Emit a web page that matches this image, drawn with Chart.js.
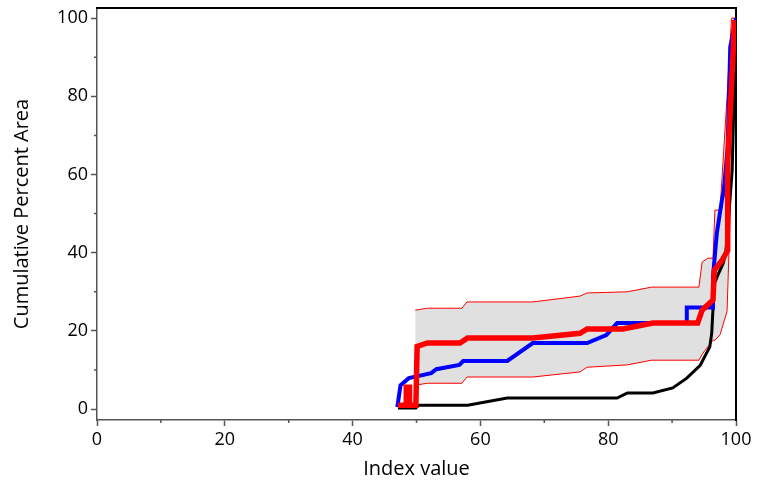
<!DOCTYPE html>
<html>
<head>
<meta charset="utf-8">
<script src="https://cdn.jsdelivr.net/npm/chart.js@4"></script>
<style>
html, body { margin: 0; padding: 0; background: #fff; }
</style>
</head>
<body>
<canvas id="chart1" width="767" height="485"></canvas>
<script>
const ctx = document.getElementById('chart1').getContext('2d');

// black line
const xPreto = [47.1, 49.9, 50.3, 58.0, 64.2, 81.4, 83.0, 87.0, 90.1, 92.3, 94.4, 95.9, 96.2, 96.6, 97.3, 98.0, 98.4, 99.4, 100];
const yPreto = [0.3, 0.3, 1.0, 1.0, 2.8, 2.8, 4.1, 4.1, 5.4, 7.9, 11.2, 15.9, 19.4, 32, 34.8, 37.3, 40, 61, 100];

// blue line
const xAzul = [47.0, 47.5, 48.8, 52.3, 53.1, 56.7, 57.3, 64.2, 68.2, 76.7, 79.7, 81.4, 92.3, 92.3, 96.4, 96.4, 97.0, 97.8, 98.1, 98.7, 99.1, 100];
const yAzul = [0.5, 6.1, 7.9, 9.2, 10.2, 11.3, 12.3, 12.3, 16.9, 16.9, 18.9, 22.0, 22.0, 26.0, 26.0, 33.8, 45, 53.5, 56, 67, 92.6, 100];

// red line
const xVermelho = [47.1, 48.4, 48.4, 48.9, 48.9, 49.9, 50.1, 51.7, 56.8, 58.0, 68.2, 75.6, 76.7, 82.3, 87.0, 94.0, 94.7, 96.4, 96.6, 97.8, 98.7, 98.7, 99.8];
const yVermelho = [1.0, 1.0, 5.6, 5.6, 1.0, 1.0, 16.0, 16.9, 16.9, 18.2, 18.2, 19.4, 20.5, 20.5, 22.0, 22.0, 25.3, 27.9, 35.5, 38.0, 40.6, 63.0, 99.5];

// grey band (lower / upper bound)
const xFaixa = [49.8, 51.7, 57.1, 57.9, 68.2, 75.6, 76.7, 83.0, 86.8, 94.2, 94.7, 95.6, 96.4, 96.7, 97.5, 98.6, 99.3, 100];
const faixaInf = [6.1, 6.6, 6.6, 8.2, 8.2, 9.5, 10.7, 11.3, 12.5, 12.5, 14.0, 16.0, 17.6, 17.6, 19.0, 25.0, 60, 100];
const faixaSup = [25.3, 25.8, 25.8, 27.4, 27.4, 28.9, 29.7, 30.0, 31.2, 31.2, 37.6, 38.6, 38.6, 50.9, 50.9, 79.8, 100, 100];

const xTicks = [0, 10, 20, 30, 40, 50, 60, 70, 80, 90, 100];
const yTicks = [0, 10, 20, 30, 40, 50, 60, 70, 80, 90, 100];

const pontos = (xs, ys) => xs.map((x, i) => ({ x: x, y: ys[i] }));
const maior = v => v % 20 === 0;
const rotulo = v => maior(v) ? v : '';

const fonte = { family: "'Open Sans', 'Noto Sans', sans-serif", size: 18 };
const fonteTitulo = { family: "'Open Sans', 'Noto Sans', sans-serif", size: 20 };
const eixo = '#555';

// short minor ticks (odd tens), the major ones come from the axes
const tracinhos = {
  id: 'tracinhos',
  afterDraw(chart) {
    const c = chart.ctx;
    const sx = chart.scales.x, sy = chart.scales.y;
    c.save();
    c.strokeStyle = eixo;
    c.lineWidth = 1.5;
    c.beginPath();
    sx.ticks.filter(t => !maior(t.value)).forEach(t => {
      const px = sx.getPixelForValue(t.value);
      c.moveTo(px, sx.top);
      c.lineTo(px, sx.top + 3);
    });
    sy.ticks.filter(t => !maior(t.value)).forEach(t => {
      const py = sy.getPixelForValue(t.value);
      c.moveTo(sy.right, py);
      c.lineTo(sy.right - 3, py);
    });
    c.stroke();
    c.restore();
  }
};

const corTick = c => maior(c.tick.value) ? eixo : 'rgba(0,0,0,0)';

new Chart(ctx, {
  type: 'line',
  data: {
    datasets: [{
      data: pontos(xVermelho, yVermelho),
      borderColor: '#ff0000',
      borderWidth: 5.5
    }, {
      data: pontos(xAzul, yAzul),
      borderColor: '#0000ff',
      borderWidth: 4
    }, {
      data: pontos(xPreto, yPreto),
      borderColor: '#000000',
      borderWidth: 3
    }, {
      data: pontos(xFaixa, faixaSup),
      borderColor: '#ff0000',
      borderWidth: 1,
      fill: false
    }, {
      data: pontos(xFaixa, faixaInf),
      borderColor: '#ff0000',
      borderWidth: 1,
      backgroundColor: '#e0e0e0',
      fill: '-1'
    }]
  },
  options: {
    responsive: false,
    animation: false,
    layout: { padding: 0 },
    elements: {
      point: { radius: 0 },
      line: { tension: 0, fill: false }
    },
    plugins: {
      legend: { display: false },
      tooltip: { enabled: false }
    },
    scales: {
      x: {
        type: 'linear',
        position: 'bottom',
        min: 0,
        max: 100,
        afterBuildTicks: s => { s.ticks = xTicks.map(v => ({ value: v })); },
        afterFit: s => { s.height = 65; s.paddingLeft = 0; s.paddingRight = 0; },
        ticks: {
          autoSkip: false,
          maxRotation: 0,
          color: '#000',
          font: fonte,
          padding: 3,
          callback: rotulo
        },
        grid: { drawOnChartArea: false, tickLength: 6, tickColor: corTick, tickWidth: 1.5 },
        border: { color: eixo, width: 1.5 },
        title: { display: true, text: 'Index value', color: '#000', font: fonteTitulo, padding: { top: 0, bottom: 4 } }
      },
      y: {
        type: 'linear',
        position: 'left',
        min: -2.8,
        max: 102.6,
        afterBuildTicks: s => { s.ticks = yTicks.map(v => ({ value: v })); },
        afterFit: s => { s.width = 97; s.paddingTop = 0; s.paddingBottom = 0; },
        ticks: {
          autoSkip: false,
          color: '#000',
          font: fonte,
          padding: 3,
          callback: rotulo
        },
        grid: { drawOnChartArea: false, tickLength: 6, tickColor: corTick, tickWidth: 1.5 },
        border: { color: eixo, width: 1.5 },
        title: { display: true, text: 'Cumulative Percent Area', color: '#000', font: fonteTitulo, padding: { top: 10, bottom: 0 } }
      },
      x2: {
        type: 'linear',
        position: 'top',
        min: 0,
        max: 100,
        afterFit: s => { s.height = 8; },
        ticks: { display: false },
        grid: { display: false },
        border: { color: '#000', width: 2 }
      },
      y2: {
        type: 'linear',
        position: 'right',
        min: -2.8,
        max: 102.6,
        afterFit: s => { s.width = 31; },
        ticks: { display: false },
        grid: { display: false },
        border: { color: '#000', width: 2 }
      }
    }
  },
  plugins: [tracinhos]
});
</script>
</body>
</html>
